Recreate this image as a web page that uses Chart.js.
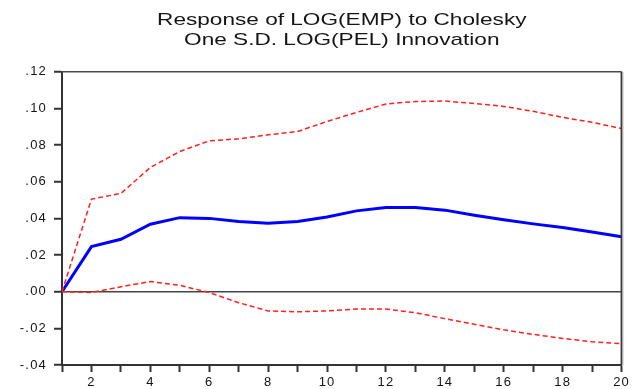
<!DOCTYPE html>
<html>
<head>
<meta charset="utf-8">
<script src="https://cdn.jsdelivr.net/npm/chart.js@4/dist/chart.umd.min.js"></script>
<style>
html,body{margin:0;padding:0;background:#ffffff;}
#wrap{width:633px;height:389px;position:relative;}
</style>
</head>
<body>
<div id="wrap"><canvas id="c" width="633" height="389"></canvas></div>
<script>
const titleLines = ["Response of LOG(EMP) to Cholesky", "One S.D. LOG(PEL) Innovation"];
const periods = [1, 2, 3, 4, 5, 6, 7, 8, 9, 10, 11, 12, 13, 14, 15, 16, 17, 18, 19, 20];
const response = [0, 0.0246, 0.0286, 0.0368, 0.0404, 0.0400, 0.0383, 0.0374, 0.0383, 0.0408,
                  0.0441, 0.0459, 0.0459, 0.0445, 0.0417, 0.0392, 0.0370, 0.0350, 0.0326, 0.0300];
const upperBand = [0, 0.0505, 0.0536, 0.0678, 0.0765, 0.0823, 0.0834, 0.0856, 0.0874, 0.0929,
                   0.0978, 0.1024, 0.1038, 0.1040, 0.1027, 0.1011, 0.0984, 0.0951, 0.0924, 0.0890];
const lowerBand = [0, -0.0004, 0.0027, 0.0055, 0.0035, -0.0005, -0.0060, -0.0105, -0.0110, -0.0105,
                   -0.0095, -0.0095, -0.0115, -0.0147, -0.0178, -0.0208, -0.0233, -0.0255, -0.0273, -0.0284];
const yMin = -0.04, yMax = 0.12, yStep = 0.02;

const FONT = "'Liberation Sans', Arial, sans-serif";
const toPoints = arr => periods.map((p, i) => ({x: p, y: arr[i]}));
const fmtY = v => {
  let s = Number(v).toFixed(2);
  return s.replace(/^(-?)0\./, '$1.');
};

const spacingPlugin = {
  id: 'spacing',
  beforeLayout(chart) { chart.ctx.letterSpacing = '1.2px'; },
  beforeDraw(chart) { chart.ctx.letterSpacing = '1.2px'; }
};

const framePlugin = {
  id: 'frame',
  afterDatasetsDraw(chart) {
    const {ctx, chartArea: a} = chart;
    ctx.save();
    ctx.strokeStyle = '#4a4a4a';
    ctx.lineWidth = 1.5;
    ctx.beginPath();
    ctx.moveTo(a.left, a.top);
    ctx.lineTo(a.right, a.top);
    ctx.stroke();
    ctx.lineWidth = 2;
    ctx.strokeStyle = '#3a3a3a';
    ctx.beginPath();
    ctx.moveTo(a.right, a.top);
    ctx.lineTo(a.right, a.bottom);
    ctx.stroke();
    ctx.strokeStyle = '#c8c8c8';
    ctx.lineWidth = 1;
    ctx.beginPath();
    ctx.moveTo(a.right + 1.5, a.top);
    ctx.lineTo(a.right + 1.5, a.bottom + 1);
    ctx.stroke();
    ctx.restore();
  }
};

const chart = new Chart(document.getElementById('c'), {
  type: 'line',
  data: {
    datasets: [
      { label: 'Upper', data: toPoints(upperBand), borderColor: '#ff2020', borderWidth: 1.5,
        borderDash: [5, 3], pointRadius: 0, tension: 0, fill: false },
      { label: 'Lower', data: toPoints(lowerBand), borderColor: '#ff2020', borderWidth: 1.5,
        borderDash: [5, 3], pointRadius: 0, tension: 0, fill: false },
      { label: 'Response', data: toPoints(response), borderColor: '#0000ff', borderWidth: 3,
        pointRadius: 0, tension: 0, fill: false }
    ]
  },
  options: {
    responsive: false,
    animation: false,
    devicePixelRatio: 1,
    layout: { padding: { top: 0, right: 10, bottom: 0, left: 0 } },
    plugins: {
      legend: { display: false },
      tooltip: { enabled: false },
      title: {
        display: true,
        text: titleLines,
        color: '#151515',
        font: { family: FONT, size: 17, weight: 'normal', lineHeight: 1.14 },
        padding: { top: 11, bottom: 22 }
      }
    },
    scales: {
      x: {
        type: 'linear',
        min: 1, max: 20,
        afterFit(scale) { scale.height = 24; },
        border: { display: true, color: '#333333', width: 2 },
        grid: { drawOnChartArea: false, drawTicks: true, tickLength: 7, tickWidth: 2, tickColor: '#333333' },
        ticks: {
          stepSize: 1, autoSkip: false, maxRotation: 0, padding: 3,
          color: '#151515', font: { family: FONT, size: 13 },
          callback: v => (v % 2 === 0 ? String(v) : '')
        }
      },
      y: {
        min: yMin, max: yMax,
        afterFit(scale) { scale.width = 62; },
        border: { display: true, color: '#333333', width: 2 },
        grid: {
          drawTicks: true, tickLength: 8, tickWidth: 2, tickColor: '#333333',
          color: ctx => (ctx.tick && Math.abs(ctx.tick.value) < 1e-9 ? '#444444' : 'rgba(0,0,0,0)'),
          lineWidth: 1.5
        },
        ticks: {
          stepSize: yStep, padding: 7,
          color: '#151515', font: { family: FONT, size: 13 },
          callback: v => fmtY(v)
        }
      }
    }
  },
  plugins: [spacingPlugin, framePlugin]
});

const tb = chart.titleBlock;
const origTitleDraw = tb.draw;
tb.draw = function () {
  const c = this.ctx;
  const a = chart.chartArea;
  const cx = (a.left + a.right) / 2;
  this.left = a.left;
  this.right = a.right;
  c.save();
  c.letterSpacing = '0px';
  c.translate(cx, 0);
  c.scale(1.33, 1);
  c.translate(-cx, 0);
  origTitleDraw.call(this);
  c.restore();
};
chart.draw();
</script>
</body>
</html>
